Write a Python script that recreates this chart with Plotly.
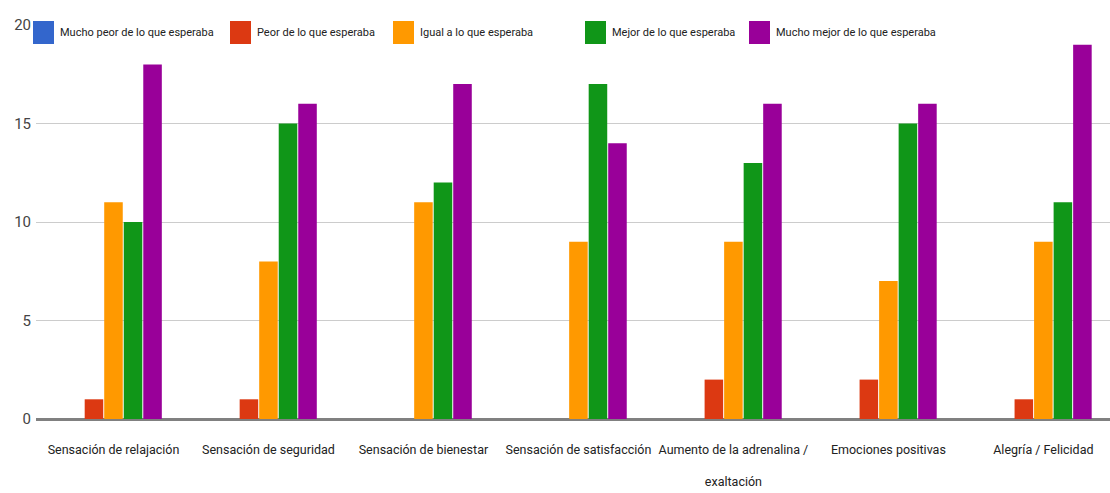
import plotly.graph_objects as go

categories = [
    "Sensación de relajación",
    "Sensación de seguridad",
    "Sensación de bienestar",
    "Sensación de satisfacción",
    "Aumento de la adrenalina /<br><br>exaltación",
    "Emociones positivas",
    "Alegría / Felicidad",
]

series_names = [
    "Mucho peor de lo que esperaba",
    "Peor de lo que esperaba",
    "Igual a lo que esperaba",
    "Mejor de lo que esperaba",
    "Mucho mejor de lo que esperaba",
]

mucho_peor = [0, 0, 0, 0, 0, 0, 0]
peor = [1, 1, 0, 0, 2, 2, 1]
igual = [11, 8, 11, 9, 9, 7, 9]
mejor = [10, 15, 12, 17, 13, 15, 11]
mucho_mejor = [18, 16, 17, 14, 16, 16, 19]

y_ticks = [0, 5, 10, 15, 20]

colors = ["#3366cc", "#dc3912", "#ff9900", "#109618", "#990099"]
FONT = "Roboto, sans-serif"

W, H = 1110, 493
ML, MR, MT, MB = 36, 0, 25, 74
PW, PH = W - ML - MR, H - MT - MB


def px_x(px):
    """Pixel column -> paper x."""
    return (px - ML) / PW


def px_y(py):
    """Pixel row (from top) -> paper y."""
    return (H - MB - py) / PH


fig = go.Figure()
for name, vals, col in zip(series_names, [mucho_peor, peor, igual, mejor, mucho_mejor], colors):
    fig.add_trace(go.Bar(
        x=categories, y=vals, name=name, showlegend=False,
        marker=dict(color=col, line=dict(width=0)),
    ))

# Legend row along the top gridline: colour swatch followed by its label
legend_left = [33, 230, 393, 585, 749]
swatch_w, swatch_top, swatch_bottom = 21, 21, 44
for name, col, left in zip(series_names, colors, legend_left):
    fig.add_shape(
        type="rect", xref="paper", yref="paper",
        x0=px_x(left), x1=px_x(left + swatch_w),
        y0=px_y(swatch_bottom), y1=px_y(swatch_top),
        fillcolor=col, line=dict(width=0), layer="above",
    )
    fig.add_annotation(
        text=name, xref="paper", yref="paper",
        x=px_x(left + swatch_w + 4), y=px_y((swatch_top + swatch_bottom) / 2),
        xanchor="left", yanchor="middle", showarrow=False,
        font=dict(family=FONT, size=11, color="#222222"),
    )

fig.update_layout(
    width=W, height=H,
    margin=dict(l=ML, r=MR, t=MT, b=MB),
    paper_bgcolor="white", plot_bgcolor="white",
    barmode="group", bargap=0.37, bargroupgap=0.05,
    font=dict(family=FONT, size=12, color="#222222"),
    showlegend=False,
    xaxis=dict(
        range=[-0.5, 6.43], showgrid=False, showline=False, ticks="",
        tickangle=0, ticklabelstandoff=21, tickfont=dict(size=12.5, color="#222222"),
    ),
    yaxis=dict(
        range=[0, 20], tickvals=y_ticks, showgrid=True, gridcolor="#cccccc", gridwidth=1,
        zeroline=True, zerolinecolor="#808080", zerolinewidth=3,
        ticks="", ticklabelstandoff=4, tickfont=dict(size=15, color="#444444"),
    ),
)

fig.write_html("out.html")
